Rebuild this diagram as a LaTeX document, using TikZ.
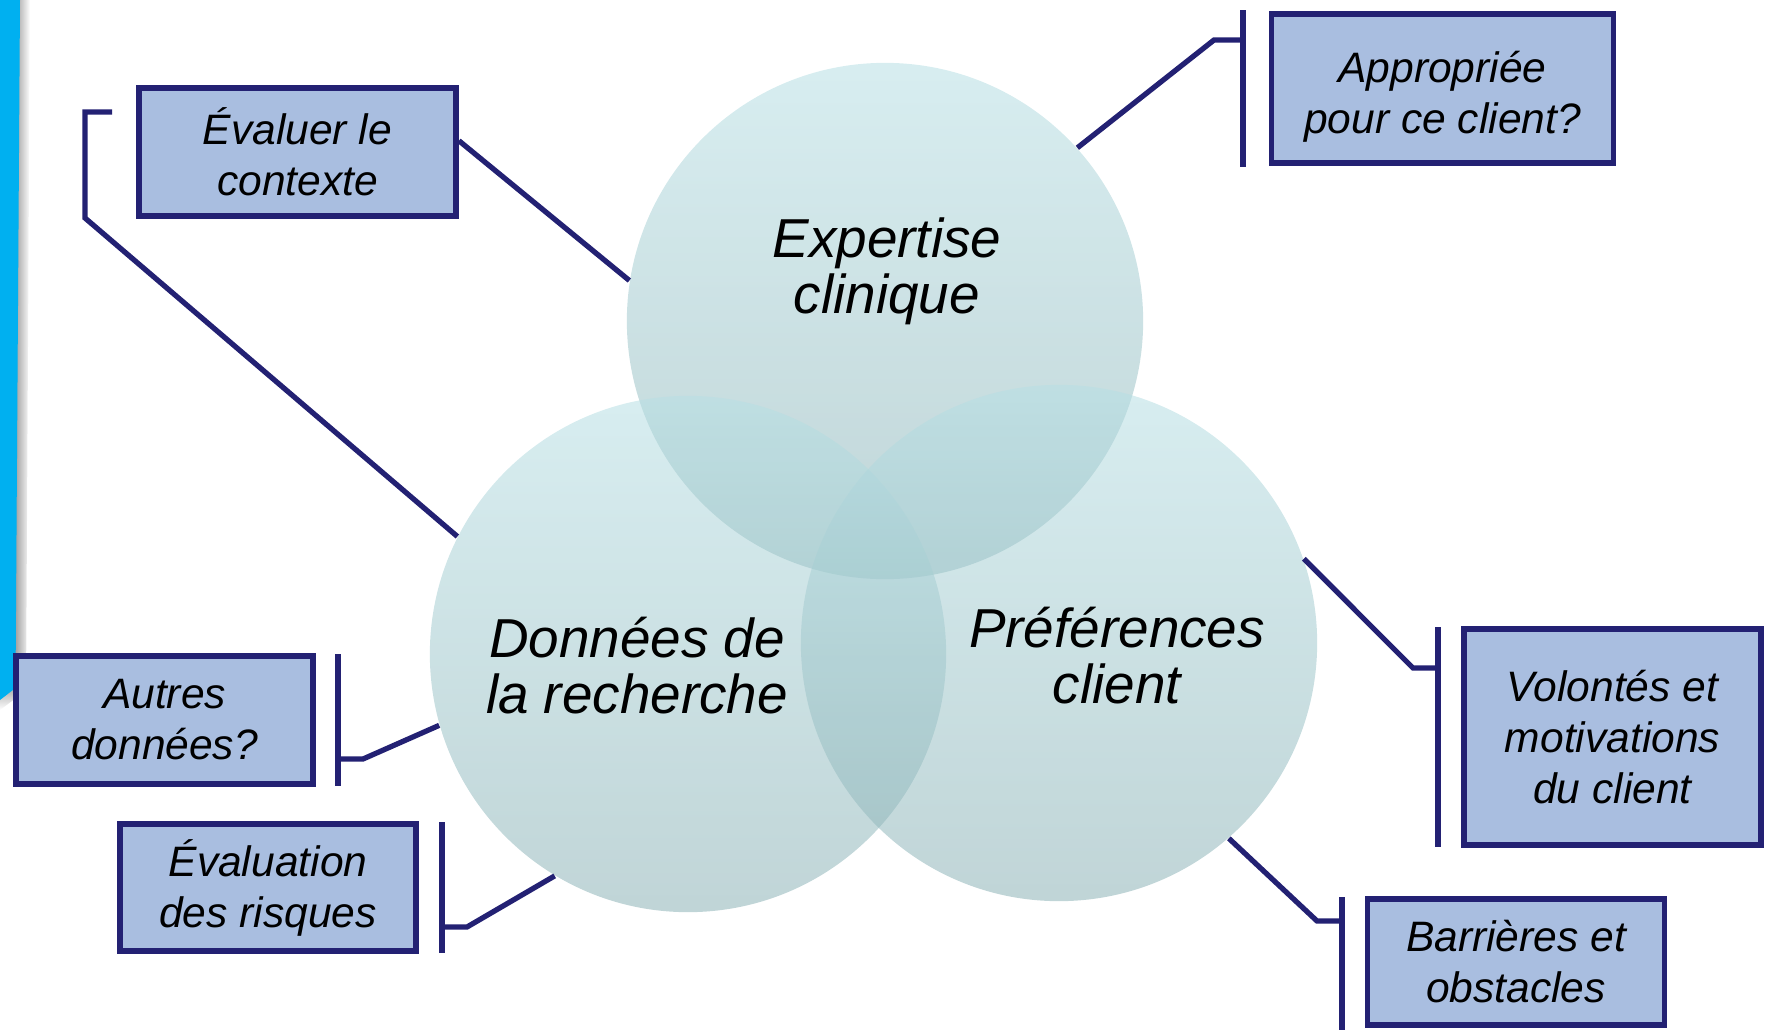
\documentclass[tikz,border=0pt]{standalone}
\usepackage{fontspec}
\setmainfont{Liberation Sans}
\usetikzlibrary{calc}

\definecolor{navy}{RGB}{35,33,115}
\definecolor{boxblue}{RGB}{169,190,224}
\definecolor{slidebar}{RGB}{0,176,240}
\definecolor{ringtop}{RGB}{183,223,228}
\definecolor{ringbot}{RGB}{140,178,182}

\begin{document}
\begin{tikzpicture}[x=0.01cm,y=-0.01cm,
  ring/.style={circle,minimum size=5.16cm,inner sep=0pt,draw=none,
    top color=ringtop,bottom color=ringbot,fill opacity=0.55},
  ringtext/.style={align=center,inner sep=0pt,
    font=\fontsize{15.6}{15.9}\selectfont\itshape},
  note/.style={draw=navy,line width=1.6pt,fill=boxblue,align=center,inner sep=0pt,
    font=\fontsize{12.1}{14.5}\selectfont\itshape},
  link/.style={draw=navy,line width=1.5pt}]

\useasboundingbox (0,0) rectangle (1767,1030); % page

% Slide bar on the left edge
\shade[left color=black!40,right color=white] (18,0) -- (30,0) -- (26,694) -- (14,690) -- cycle; % shadow
\shade[top color=black!35,bottom color=white] (0,698) -- (15,686) -- (24,692) -- (0,710) -- cycle; % shadow
\fill[slidebar] (0,0) -- (20,0) -- (15.5,688) -- (0,700) -- cycle;

% The three circles
\node[ring] (c1) at (885,321) {}; % Expertise clinique
\node[ring] (c2) at (688,654) {}; % Donnees de la recherche
\node[ring] (c3) at (1059,643) {}; % Preferences client

\node[ringtext] (t1) at (887,271) {Expertise\\clinique};
\node[ringtext] (t2) at (637,666) {Données de\\la recherche};
\node[ringtext] (t3) at (1117,656) {Préférences\\client};

% Boxes
\node[note,minimum width=3.17cm,minimum height=1.28cm] (evaluer) at (297.5,152) {Évaluer le\\contexte};
\node[note,minimum width=3.42cm,minimum height=1.49cm] (approp) at (1442.5,88.5) {\rule{0pt}{13.5pt}Appropriée\\pour ce client?};
\node[note,minimum width=2.97cm,minimum height=1.28cm] (autres) at (164.5,720) {Autres\\données?};
\node[note,minimum width=2.96cm,minimum height=1.27cm] (risques) at (268,887.5) {Évaluation\\des risques};
\node[note,minimum width=2.97cm,minimum height=2.16cm] (volontes) at (1612.5,737) {Volontés et\\motivations\\du client};
\node[note,minimum width=2.97cm,minimum height=1.26cm] (barrieres) at (1516,962) {Barrières et\\obstacles};

% Bracket points
\coordinate (evA) at (112,112); \coordinate (evB) at (85,112); \coordinate (evC) at (85,218);
\coordinate (apA) at (1243,10); \coordinate (apB) at (1243,167); \coordinate (apK) at (1243,40); \coordinate (apE) at (1214,40);
\coordinate (auA) at (338,654); \coordinate (auB) at (338,786); \coordinate (auK) at (338,759); \coordinate (auE) at (363,759);
\coordinate (riA) at (442,822); \coordinate (riB) at (442,953); \coordinate (riK) at (442,927); \coordinate (riE) at (467,927);
\coordinate (voA) at (1438,627); \coordinate (voB) at (1438,847); \coordinate (voK) at (1438,668); \coordinate (voE) at (1413,668);
\coordinate (baA) at (1342,897); \coordinate (baB) at (1342,1030); \coordinate (baK) at (1342,921); \coordinate (baE) at (1317,921);

% Connectors
\draw[link] (evaluer.4) -- (c1.171);
\draw[link] (evA) -- (evB) -- (evC) -- (c2.153);
\draw[link] (apA) -- (apB);
\draw[link] (c1.42) -- (apE) -- (apK);
\draw[link] (auA) -- (auB);
\draw[link] (c2.196) -- (auE) -- (auK);
\draw[link] (riA) -- (riB);
\draw[link] (c2.239) -- (riE) -- (riK);
\draw[link] (voA) -- (voB);
\draw[link] (c3.19) -- (voE) -- (voK);
\draw[link] (baA) -- (baB);
\draw[link] (c3.-49) -- (baE) -- (baK);

\end{tikzpicture}
\end{document}
